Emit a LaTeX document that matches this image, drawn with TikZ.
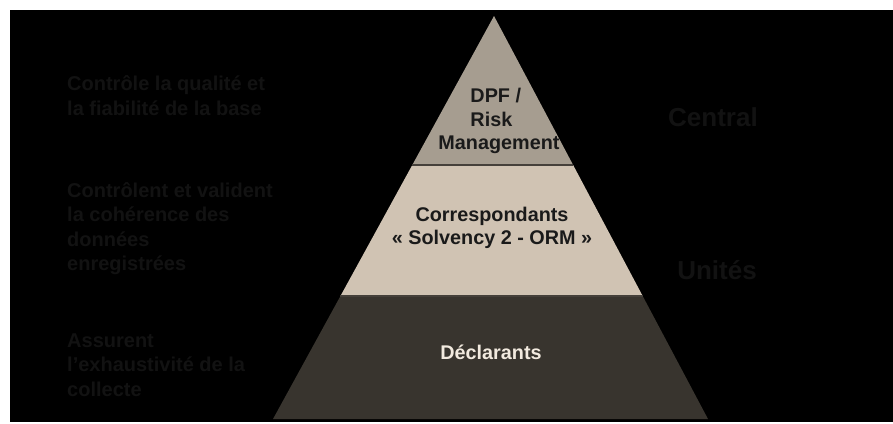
\documentclass[tikz,border=0pt]{standalone}
\usepackage{fontspec}
\setmainfont{Liberation Sans}
\usetikzlibrary{calc}
\definecolor{topTier}{HTML}{A69D90}
\definecolor{midTier}{HTML}{D0C3B3}
\definecolor{baseTier}{HTML}{38342E}
\definecolor{tierLine}{HTML}{45403A}
\definecolor{ghost}{HTML}{121212}
\definecolor{cream}{HTML}{F2EADF}
\definecolor{ink}{HTML}{1A1A1A}

\begin{document}
\begin{tikzpicture}[x=1pt,y=-1pt,
  every node/.style={font=\bfseries},
  note/.style={anchor=west,align=left,text=ghost,inner sep=0pt,font={\bfseries\fontsize{20}{24.5}\selectfont}},
  level/.style={text=ghost,inner sep=0pt,font={\bfseries\fontsize{26}{30}\selectfont}},
  tier/.style={align=center,inner sep=0pt,font={\bfseries\fontsize{19.8}{23.5}\selectfont}}]
\useasboundingbox (0,0) rectangle (893,423);
\fill[white] (0,0) rectangle (893,423);
\fill[black] (10,10) rectangle (893,422);
% pyramid corners and tier cuts
\coordinate (apex) at (494,16);
\coordinate (bl) at (273,419);
\coordinate (br) at (708,419);
\coordinate (cutTL) at ($(apex)!0.37!(bl)$);
\coordinate (cutTR) at ($(apex)!0.37!(br)$);
\coordinate (cutML) at ($(apex)!0.695!(bl)$);
\coordinate (cutMR) at ($(apex)!0.695!(br)$);
\fill[baseTier] (cutML) -- (cutMR) -- (br) -- (bl) -- cycle;
\fill[midTier] (cutTL) -- (cutTR) -- (cutMR) -- (cutML) -- cycle;
\fill[topTier] (apex) -- (cutTR) -- (cutTL) -- cycle;
\draw[tierLine,line width=1.5pt] (cutTL) -- (cutTR);
\draw[tierLine,line width=1.5pt] (cutML) -- (cutMR);
% tier labels
\node[tier,text=ink,align=left] (dpf) at (499,121) {\hspace*{32pt}DPF /\\\hspace*{32pt}Risk\\Management};
\node[tier,text=ink] (corresp) at (492,228) {Correspondants\\« Solvency 2 - ORM »};
\node[tier,text=cream] (declar) at (491,352) {Déclarants};
% side notes
\node[note] (noteTop) at (67,95.5) {Contrôle la qualité et\\la fiabilité de la base};
\node[note] (noteMid) at (67,228.5) {Contrôlent et valident\\la cohérence des\\données\\enregistrées};
\node[note] (noteBase) at (67,365) {Assurent\\l’exhaustivité de la\\collecte};
\node[level] (central) at (713,117) {Central};
\node[level] (unites) at (717,270) {Unités};
\end{tikzpicture}
\end{document}
